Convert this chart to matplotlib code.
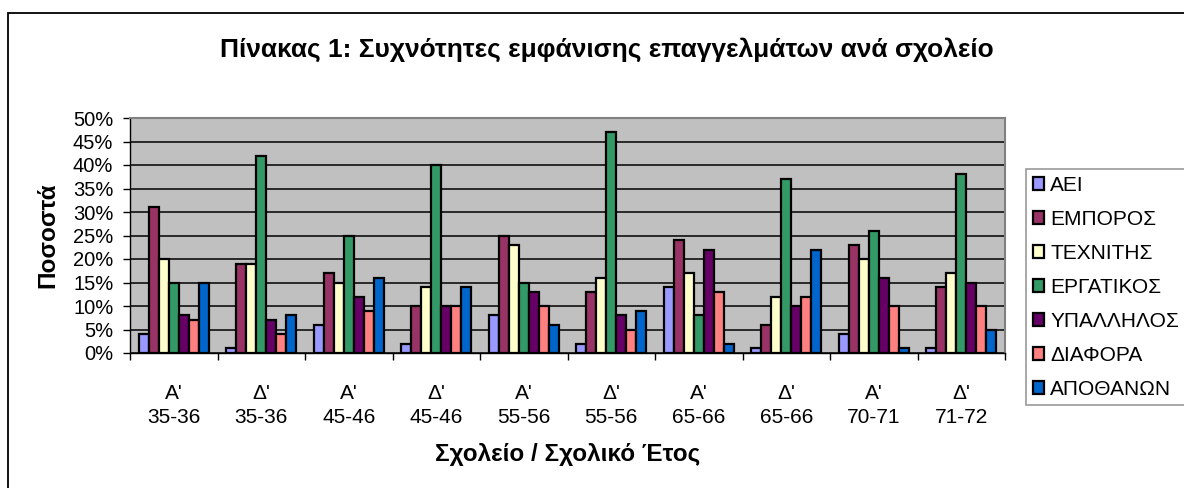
import numpy as np
import matplotlib
matplotlib.use('Agg')
import matplotlib.pyplot as plt
from matplotlib.patches import Rectangle
from matplotlib.ticker import PercentFormatter

plt.rcParams['font.family'] = ['Liberation Sans', 'DejaVu Sans']

# Categories (school / school year)
categories = ["Α'\n35-36", "Δ'\n35-36", "Α'\n45-46", "Δ'\n45-46", "Α'\n55-56",
              "Δ'\n55-56", "Α'\n65-66", "Δ'\n65-66", "Α'\n70-71", "Δ'\n71-72"]

# Percentages per profession
aei = [4, 1, 6, 2, 8, 2, 14, 1, 4, 1]
emporos = [31, 19, 17, 10, 25, 13, 24, 6, 23, 14]
technitis = [20, 19, 15, 14, 23, 16, 17, 12, 20, 17]
ergatikos = [15, 42, 25, 40, 15, 47, 8, 37, 26, 38]
ypallilos = [8, 7, 12, 10, 13, 8, 22, 10, 16, 15]
diafora = [7, 4, 9, 10, 10, 5, 13, 12, 10, 10]
apothanon = [15, 8, 16, 14, 6, 9, 2, 22, 1, 5]

series_names = ['ΑΕΙ', 'ΕΜΠΟΡΟΣ', 'ΤΕΧΝΙΤΗΣ', 'ΕΡΓΑΤΙΚΟΣ', 'ΥΠΑΛΛΗΛΟΣ', 'ΔΙΑΦΟΡΑ', 'ΑΠΟΘΑΝΩΝ']
series_values = [aei, emporos, technitis, ergatikos, ypallilos, diafora, apothanon]
colors = ['#9999FF', '#993366', '#FFFFCC', '#339966', '#660066', '#FF8080', '#0066CC']

fig = plt.figure(figsize=(11.84, 4.88), dpi=100)
ax = fig.add_axes([130 / 1184, 1 - 353 / 488, 875 / 1184, 235 / 488])
ax.set_facecolor('#C0C0C0')

x = np.arange(len(categories))
n = len(series_names)
group_w = 0.8
bar_w = group_w / n
for i, (name, vals, col) in enumerate(zip(series_names, series_values, colors)):
    offs = -group_w / 2 + bar_w * (i + 0.5)
    ax.bar(x + offs, vals, width=bar_w, color=col, edgecolor='black',
           linewidth=1.6, label=name, zorder=3)

ax.set_xlim(-0.5, len(categories) - 0.5)
ax.set_ylim(0, 50)
ax.set_yticks(np.arange(0, 51, 5))
ax.yaxis.set_major_formatter(PercentFormatter(decimals=0))
ax.yaxis.grid(True, color='black', linewidth=1.1, zorder=1)
ax.set_axisbelow(True)

ax.set_xticks(np.arange(-0.5, len(categories), 1.0))
ax.set_xticklabels([])
ax.set_xticks(x, minor=True)
ax.set_xticklabels(categories, minor=True, fontsize=15, linespacing=1.35)
ax.tick_params(axis='x', which='minor', length=0, pad=22)
ax.tick_params(axis='x', which='major', direction='out', length=5, width=1, color='black')
ax.tick_params(axis='y', direction='out', length=5, width=1, labelsize=14.5, pad=7)

for side in ['top', 'right']:
    ax.spines[side].set_color('#808080')
    ax.spines[side].set_linewidth(1.5)
for side in ['left', 'bottom']:
    ax.spines[side].set_color('black')
    ax.spines[side].set_linewidth(1.0)

ax.set_ylabel('Ποσοστά', fontsize=17.5, fontweight='bold', labelpad=10)
ax.set_xlabel('Σχολείο / Σχολικό Έτος', fontsize=17.5, fontweight='bold', labelpad=12)

fig.text(607 / 1184, 1 - 50 / 488, 'Πίνακας 1: Συχνότητες εμφάνισης επαγγελμάτων ανά σχολείο',
         ha='center', va='center', fontsize=19, fontweight='bold')

leg = fig.legend(loc='upper left', bbox_to_anchor=(1026 / 1184, 1 - 169 / 488),
                 fontsize=15, frameon=True, fancybox=False, handlelength=0.55,
                 handleheight=0.55, handletextpad=0.3, labelspacing=0.72,
                 borderpad=0.32, borderaxespad=0)
leg.get_frame().set_edgecolor('#808080')
leg.get_frame().set_linewidth(1.2)
for h in leg.legend_handles:
    h.set_linewidth(1.6)

# outer chart frame (only top and left visible in the crop)
fig.patches.append(Rectangle((8 / 1184, -0.2), 1.2, 1.2 - 13 / 488, transform=fig.transFigure,
                             fill=False, edgecolor='black', linewidth=1.3))

fig.savefig('out.png', dpi=100)
